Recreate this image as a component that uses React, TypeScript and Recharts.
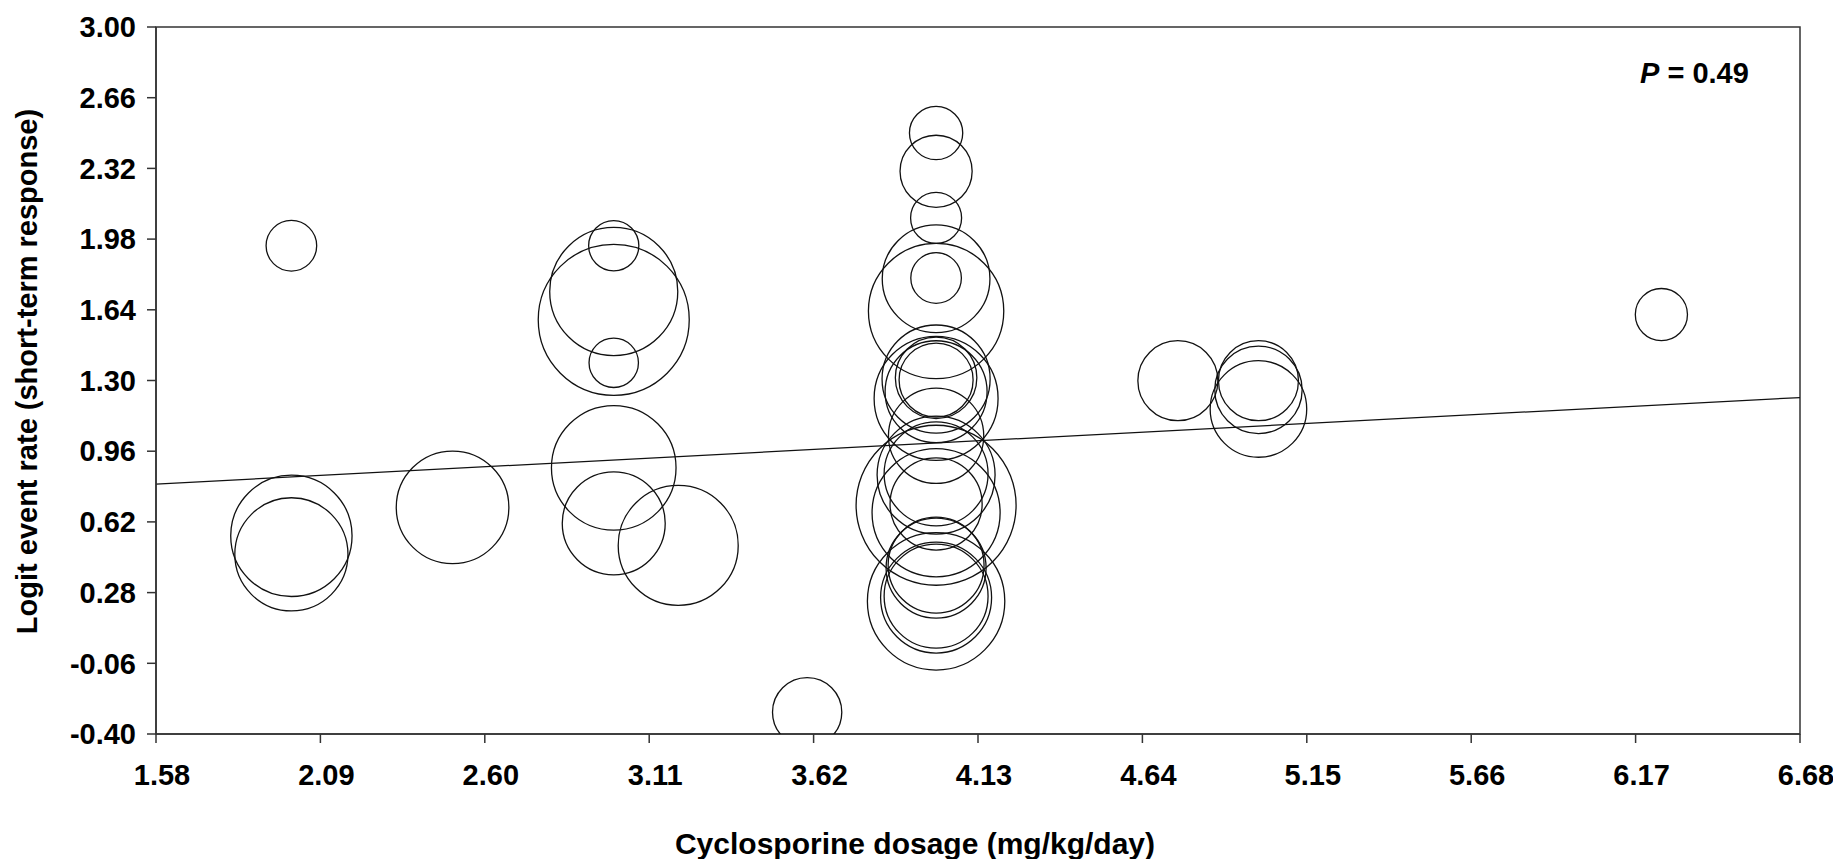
import React from 'react';
import {
  ScatterChart,
  Scatter,
  XAxis,
  YAxis,
  ZAxis,
  ReferenceLine,
  ReferenceArea,
} from 'recharts';

// Study dosage (mg/kg/day)
const dosage = [
  2.0, 2.0, 2.0, 2.5,
  3.0, 3.0, 3.0, 3.0, 3.0, 3.0,
  3.2, 3.6,
  4.0, 4.0, 4.0, 4.0, 4.0, 4.0,
  4.0, 4.0, 4.0, 4.0, 4.0,
  4.0, 4.0, 4.0,
  4.0, 4.0, 4.0,
  4.0, 4.0, 4.0, 4.0, 4.0,
  4.75, 5.0, 5.0, 5.0,
  6.25,
];

// Logit event rate (short-term response)
const logitRate = [
  1.948, 0.553, 0.464, 0.690,
  1.948, 1.728, 1.592, 1.385, 0.880, 0.613,
  0.507, -0.295,
  2.490, 2.306, 2.082, 1.793, 1.789, 1.634,
  1.307, 1.313, 1.246, 1.214, 1.302,
  1.034, 0.845, 0.851,
  0.700, 0.664, 0.706,
  0.412, 0.398, 0.263, 0.256, 0.238,
  1.299, 1.299, 1.255, 1.163,
  1.617,
];

// Relative study weight (bubble area)
const weight = [
  6.4, 36.8, 32.0, 31.7,
  6.3, 41.0, 57.0, 6.1, 38.8, 26.5,
  36.0, 12.0,
  7.1, 13.0, 6.5, 6.4, 29.0, 45.8,
  29.2, 16.6, 26.0, 38.4, 13.7,
  22.7, 34.8, 27.0,
  64.0, 41.0, 21.2,
  23.0, 25.0, 27.0, 30.8, 47.2,
  16.0, 16.0, 19.1, 23.3,
  6.8,
];

const xTicks = [1.58, 2.09, 2.6, 3.11, 3.62, 4.13, 4.64, 5.15, 5.66, 6.17, 6.68];
const yTicks = [-0.4, -0.06, 0.28, 0.62, 0.96, 1.3, 1.64, 1.98, 2.32, 2.66, 3.0];

// Meta-regression line end points
const regressionX = [1.58, 6.68];
const regressionY = [0.802, 1.218];

const xTitle = 'Cyclosporine dosage (mg/kg/day)';
const yTitle = 'Logit event rate (short-term response)';
const pLabel = 'P';
const pValue = ' = 0.49';

const data = dosage.map((x, i) => ({ x, y: logitRate[i], w: weight[i] }));
const regression = regressionX.map((x, i) => ({ x, y: regressionY[i] }));

const FONT = '"Liberation Sans", Arial, Helvetica, sans-serif';
const tickStyle = { fill: '#000', fontSize: 29, fontWeight: 'bold' as const, fontFamily: FONT };

export default function App() {
  return (
    <div style={{ position: 'relative', width: 1833, height: 851, fontFamily: FONT }}>
      <ScatterChart width={1833} height={851} margin={{ top: 19, right: 41, left: 0, bottom: 0 }}>
        <XAxis
          type="number"
          dataKey="x"
          domain={[1.58, 6.68]}
          ticks={xTicks}
          interval={0}
          allowDataOverflow
          tickFormatter={(v: number) => v.toFixed(2)}
          tick={{ ...tickStyle, dx: 6 }}
          tickSize={9}
          tickMargin={21}
          height={125}
          stroke="#333"
          strokeWidth={1.5}
          label={{
            value: xTitle,
            position: 'insideBottom',
            offset: 5,
            dx: -63,
            style: { fontSize: 30, fontWeight: 'bold', fill: '#000', fontFamily: FONT },
          }}
        />
        <YAxis
          type="number"
          dataKey="y"
          domain={[-0.4, 3.0]}
          ticks={yTicks}
          interval={0}
          allowDataOverflow
          tickFormatter={(v: number) => v.toFixed(2)}
          tick={tickStyle}
          tickSize={9}
          tickMargin={11}
          width={148}
          stroke="#333"
          strokeWidth={1.5}
          label={{
            value: yTitle,
            angle: -90,
            position: 'insideLeft',
            offset: 19,
            dy: -9,
            style: { textAnchor: 'middle', fontSize: 29, fontWeight: 'bold', fill: '#000', fontFamily: FONT },
          }}
        />
        <ZAxis type="number" dataKey="w" domain={[0, 64]} range={[0, 6400 * Math.PI]} />
        <ReferenceArea x1={1.58} x2={6.68} y1={-0.4} y2={3.0} fill="none" stroke="#333" strokeWidth={1.5} />
        <Scatter
          data={data}
          fill="none"
          stroke="#111"
          strokeWidth={1.3}
          isAnimationActive={false}
        />
        <ReferenceLine segment={regression} stroke="#111" strokeWidth={1.3} />
      </ScatterChart>
      <div
        style={{
          position: 'absolute',
          left: 1632,
          top: 51,
          fontSize: 29,
          lineHeight: '29px',
          fontWeight: 'bold',
          color: '#000',
          whiteSpace: 'nowrap',
        }}
      >
        <i>{pLabel}</i>
        {pValue}
      </div>
    </div>
  );
}
